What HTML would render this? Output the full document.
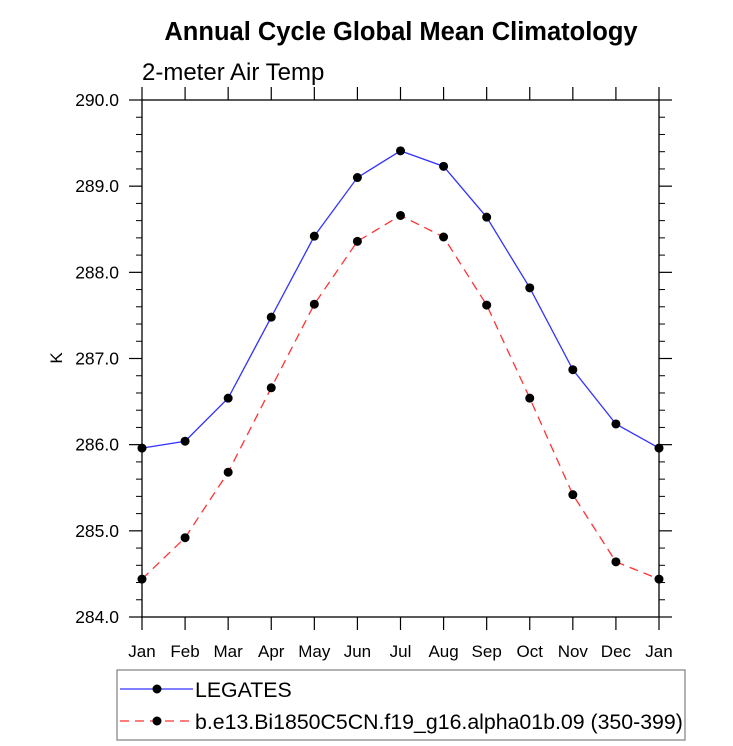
<!DOCTYPE html>
<html><head><meta charset="utf-8"><style>
body{margin:0;background:#fff;}
svg{display:block;font-family:"Liberation Sans",Arial,sans-serif;}
</style></head><body>
<svg id="chart" width="733" height="746">
<text x="401" y="40" text-anchor="middle" font-size="25.5" font-weight="bold">Annual Cycle Global Mean Climatology</text>
<text x="142" y="80" font-size="24">2-meter Air Temp</text>
<text x="62" y="358" font-size="17" text-anchor="middle" transform="rotate(-90 62 358)">K</text>
<g id="axes"></g>
<g id="series"></g>
<g>
<rect x="117" y="670" width="568" height="70" fill="#fff" stroke="#888" stroke-width="1.3"/>
<line x1="120" y1="689" x2="193" y2="689" stroke="#33f" stroke-width="1.3"/>
<circle cx="157" cy="689" r="4.5" fill="#000"/>
<text x="195" y="697" font-size="21.3">LEGATES</text>
<line x1="120" y1="721" x2="193" y2="721" stroke="#f33" stroke-width="1.3" stroke-dasharray="9,6"/>
<circle cx="157" cy="721" r="4.5" fill="#000"/>
<text x="195" y="729" font-size="21.3">b.e13.Bi1850C5CN.f19_g16.alpha01b.09 (350-399)</text>
</g>
</svg>
<script>
const months=["Jan","Feb","Mar","Apr","May","Jun","Jul","Aug","Sep","Oct","Nov","Dec","Jan"];
const legates=[285.96,286.04,286.54,287.48,288.42,289.10,289.41,289.23,288.64,287.82,286.87,286.24,285.96];
const model=[284.44,284.92,285.68,286.66,287.63,288.36,288.66,288.41,287.62,286.54,285.42,284.64,284.44];
const yTicks=[284,285,286,287,288,289,290];
const NS="http://www.w3.org/2000/svg";
const L=142,R=659,T=100,B=617,yMin=284,yMax=290;
const xs=i=>L+(R-L)*i/(months.length-1);
const ys=v=>B-(v-yMin)/(yMax-yMin)*(B-T);
function mk(tag,at,parent){const e=document.createElementNS(NS,tag);for(const k in at)e.setAttribute(k,at[k]);parent.appendChild(e);return e;}
const ax=document.getElementById('axes');
const frame=mk('rect',{x:L,y:T,width:R-L,height:B-T,fill:'none',stroke:'#000','stroke-width':1.3},ax);


months.forEach((m,i)=>{
 const x=xs(i);
 mk('line',{x1:x,y1:B,x2:x,y2:B+13,stroke:'#000','stroke-width':1.2},ax);
 mk('line',{x1:x,y1:T,x2:x,y2:T-13,stroke:'#000','stroke-width':1.2},ax);
 const t=mk('text',{x:x,y:657,'text-anchor':'middle','font-size':17},ax);
 t.textContent=m;
 
 
});
yTicks.forEach(v=>{
 const y=ys(v);
 mk('line',{x1:L,y1:y,x2:L-13,y2:y,stroke:'#000','stroke-width':1.2},ax);
 mk('line',{x1:R,y1:y,x2:R+13,y2:y,stroke:'#000','stroke-width':1.2},ax);
 const t=mk('text',{x:L-23,y:y+6,'text-anchor':'end','font-size':17.5},ax);
 t.textContent=v.toFixed(1);
 
 
 if(v<yMax){for(let k=1;k<5;k++){const yy=ys(v+k*0.2);
  mk('line',{x1:L,y1:yy,x2:L-6,y2:yy,stroke:'#000','stroke-width':1},ax);
  mk('line',{x1:R,y1:yy,x2:R+6,y2:yy,stroke:'#000','stroke-width':1},ax);}}
});
const sg=document.getElementById('series');
function draw(data,color,dash,name){
 const pts=data.map((v,i)=>xs(i)+','+ys(v)).join(' ');
 const pl=mk('polyline',{points:pts,fill:'none',stroke:color,'stroke-width':1.3},sg);
 if(dash)pl.setAttribute('stroke-dasharray',dash);
 
 
 data.forEach((v,i)=>{
  const c=mk('circle',{cx:xs(i),cy:ys(v),r:4.5,fill:'#000'},sg);
  
  
 });
}
draw(legates,'#33f',null,'legates');
draw(model,'#f33','9,6','model');
</script>
</body></html>
